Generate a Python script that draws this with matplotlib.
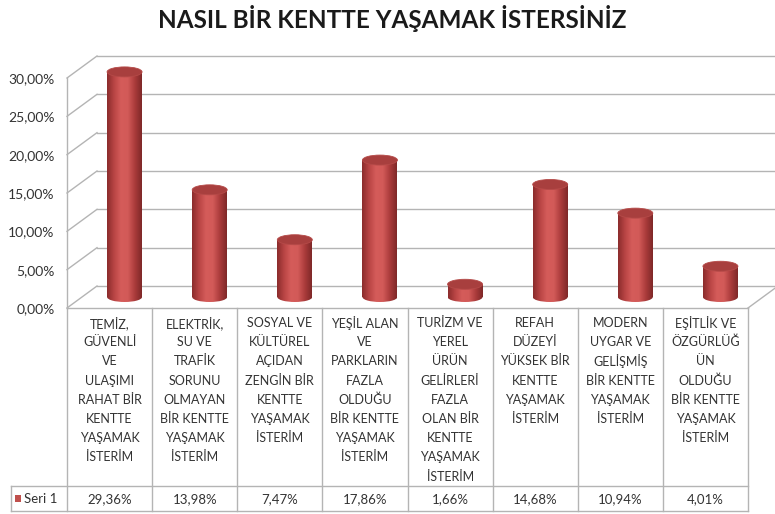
import numpy as np
import matplotlib
matplotlib.use("Agg")
import matplotlib.pyplot as plt
from matplotlib.patches import Ellipse, Rectangle
from matplotlib.colors import LinearSegmentedColormap
from matplotlib.transforms import blended_transform_factory
from matplotlib.ticker import FuncFormatter

# -----------------------------
# DATA
# -----------------------------
title = "NASIL BİR KENTTE YAŞAMAK İSTERSİNİZ"
series_name = "Seri 1"
categories = [
    ["TEMİZ,", "GÜVENLİ", "VE", "ULAŞIMI", "RAHAT BİR", "KENTTE", "YAŞAMAK", "İSTERİM"],
    ["ELEKTRİK,", "SU VE", "TRAFİK", "SORUNU", "OLMAYAN", "BİR KENTTE", "YAŞAMAK", "İSTERİM"],
    ["SOSYAL VE", "KÜLTÜREL", "AÇIDAN", "ZENGİN BİR", "KENTTE", "YAŞAMAK", "İSTERİM"],
    ["YEŞİL ALAN", "VE", "PARKLARIN", "FAZLA", "OLDUĞU", "BİR KENTTE", "YAŞAMAK", "İSTERİM"],
    ["TURİZM VE", "YEREL", "ÜRÜN", "GELİRLERİ", "FAZLA", "OLAN BİR", "KENTTE", "YAŞAMAK", "İSTERİM"],
    ["REFAH", "DÜZEYİ", "YÜKSEK BİR", "KENTTE", "YAŞAMAK", "İSTERİM"],
    ["MODERN", "UYGAR VE", "GELİŞMİŞ", "BİR KENTTE", "YAŞAMAK", "İSTERİM"],
    ["EŞİTLİK VE", "ÖZGÜRLÜĞ", "ÜN", "OLDUĞU", "BİR KENTTE", "YAŞAMAK", "İSTERİM"],
]
values = [29.36, 13.98, 7.47, 17.86, 1.66, 14.68, 10.94, 4.01]
yticks = [0, 5, 10, 15, 20, 25, 30]

# -----------------------------
# STYLE / LAYOUT
# -----------------------------
W, H = 775, 514
FONT = "Lato"
TXT = "#333333"
GRID = "#b4b4b4"
RED = "#c0504d"
YMAX = 34  # axes a bit taller than 30% so the tall cylinder top is not clipped

plt.rcParams["font.family"] = [FONT, "DejaVu Sans"]

fig = plt.figure(figsize=(W / 100, H / 100), dpi=100)

# front plane of the 3D box, in pixels (30% at y=78, 0% at y=308)
left, right, bottom = 67, 748, 308
px_y = 30 / (308 - 78)
top = bottom - YMAX / px_y
ax = fig.add_axes([left / W, 1 - bottom / H, (right - left) / W, (bottom - top) / H])
n = len(values)

px_x = n / (right - left)
DX = 30 * px_x
DY = 22 * px_y

for s in ax.spines.values():
    s.set_visible(False)
ax.set_xticks([])
ax.set_yticks(yticks)
ax.yaxis.set_major_formatter(FuncFormatter(lambda v, p: f"{v:.2f}".replace(".", ",") + "%"))
ax.tick_params(axis="y", length=0, pad=9, labelsize=10, labelcolor=TXT)

# -----------------------------
# WALLS / GRID
# -----------------------------
for v in yticks:
    ax.plot([DX, n + DX + 1], [v + DY, v + DY], color=GRID, lw=1, clip_on=False, zorder=1)
    ax.plot([0, DX], [v, v + DY], color=GRID, lw=1, clip_on=False, zorder=1)
ax.plot([0, 0], [0, 30], color=GRID, lw=1, clip_on=False, zorder=1)
ax.plot([n, n + DX], [0, DY], color=GRID, lw=1, clip_on=False, zorder=1)

# -----------------------------
# CYLINDERS
# -----------------------------
cmap = LinearSegmentedColormap.from_list(
    "cyl", ["#8a2c2c", "#b84444", "#d55c5a", "#d25a58", "#aa3b3b", "#7e2828"])
grad = np.linspace(0, 1, 256).reshape(1, -1)
cw = 35 * px_x
eh = 10 * px_y
for i, v in enumerate(values):
    cx = i + 0.5 + DX / 2
    y0 = DY / 2
    y1 = v + DY / 2
    body = Rectangle((cx - cw / 2, y0), cw, y1 - y0, facecolor="none", edgecolor="none")
    base = Ellipse((cx, y0), cw, eh, facecolor="none", edgecolor="none")
    for clip in (body, base):
        ax.add_patch(clip)
        im = ax.imshow(grad, cmap=cmap, aspect="auto", zorder=3,
                       extent=(cx - cw / 2, cx + cw / 2, y0 - eh, y1), interpolation="bilinear")
        im.set_clip_path(clip)
    ax.add_patch(Ellipse((cx, y1), cw, eh, facecolor="#a83f3e", edgecolor="#b54a48",
                         lw=0.6, zorder=4))
ax.set_xlim(0, n)
ax.set_ylim(0, YMAX)

# -----------------------------
# TITLE
# -----------------------------
fig.text(392 / W, 1 - 18 / H, title, ha="center", va="center",
         fontsize=17.5, fontweight="bold", color="#1a1a1a")

# -----------------------------
# DATA TABLE
# -----------------------------
tr = blended_transform_factory(ax.transData, fig.transFigure)
fy = lambda p: 1 - p / H
x_lab = (11 - left) * px_x
row_top, row_sep, row_bot = 308, 486, 511

for i in range(n + 1):
    ax.plot([i, i], [fy(row_top), fy(row_bot)], color=GRID, lw=1, transform=tr, clip_on=False)
ax.plot([x_lab, x_lab], [fy(row_sep), fy(row_bot)], color=GRID, lw=1, transform=tr, clip_on=False)
ax.plot([0, n], [fy(row_top), fy(row_top)], color=GRID, lw=1, transform=tr, clip_on=False)
for yy in (row_sep, row_bot):
    ax.plot([x_lab, n], [fy(yy), fy(yy)], color=GRID, lw=1, transform=tr, clip_on=False)

for i, lines in enumerate(categories):
    for k, line in enumerate(lines):
        ax.text(i + 0.5, fy(323 + k * 19.2), line, ha="center", va="center",
                fontsize=9, color=TXT, transform=tr, clip_on=False)
    ax.text(i + 0.5, fy(499), f"{values[i]:.2f}".replace(".", ",") + "%",
            ha="center", va="center", fontsize=9.5, color=TXT, transform=tr, clip_on=False)

ax.add_patch(Rectangle(((15 - left) * px_x, fy(502)), 6 * px_x, 7 / H, facecolor=RED,
                       edgecolor="none", transform=tr, clip_on=False))
ax.text((24 - left) * px_x, fy(499), series_name, ha="left", va="center",
        fontsize=9.5, color=TXT, transform=tr, clip_on=False)

fig.savefig("out.png", dpi=100)
